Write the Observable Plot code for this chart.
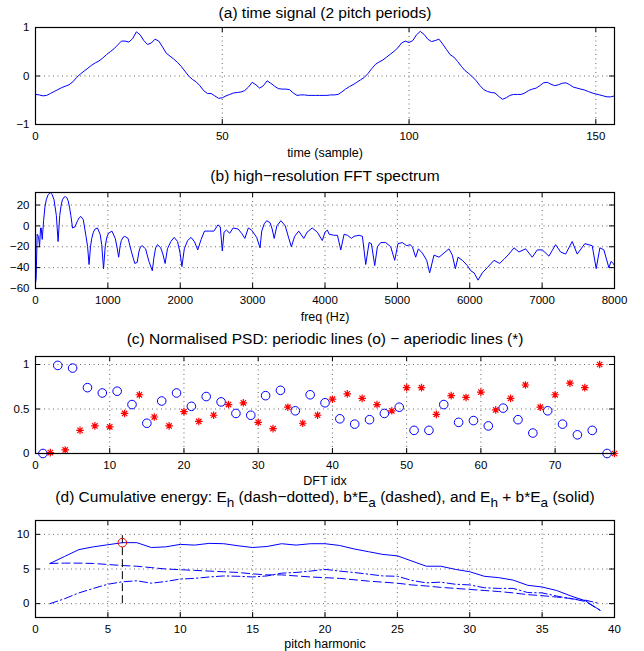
<!DOCTYPE html>
<html><head><meta charset="utf-8">
<script src="https://cdn.jsdelivr.net/npm/d3@7"></script>
<script src="https://cdn.jsdelivr.net/npm/@observablehq/plot@0.6"></script>
<style>
body{margin:0;background:#fff}
#chart{width:644px;height:651px;overflow:hidden}
#chart svg{display:block}
</style>
</head><body><div id="chart"></div>
<script>
// ---------- (a) time signal, samples 0..155 ----------
const signal = [
 -0.38,-0.39,-0.41,-0.40,-0.36,-0.32,-0.28,-0.24,-0.21,-0.18,
 -0.12,-0.03,0.04,0.10,0.16,0.22,0.27,0.31,0.37,0.44,
 0.50,0.56,0.64,0.72,0.72,0.70,0.77,0.91,0.85,0.73,
 0.65,0.68,0.76,0.72,0.60,0.47,0.41,0.35,0.28,0.20,
 0.10,0.00,-0.07,-0.12,-0.20,-0.30,-0.36,-0.36,-0.41,-0.46,
 -0.45,-0.41,-0.38,-0.35,-0.34,-0.33,-0.30,-0.23,-0.13,-0.18,
 -0.25,-0.20,-0.10,-0.15,-0.21,-0.26,-0.27,-0.27,-0.28,-0.35,
 -0.40,-0.39,-0.39,-0.40,-0.40,-0.40,-0.40,-0.40,-0.40,-0.39,
 -0.39,-0.38,-0.33,-0.27,-0.22,-0.18,-0.13,-0.08,-0.03,0.05,
 0.15,0.24,0.29,0.33,0.39,0.45,0.51,0.58,0.68,0.72,
 0.69,0.73,0.85,0.92,0.86,0.76,0.71,0.73,0.76,0.66,
 0.55,0.44,0.39,0.30,0.20,0.11,0.05,-0.02,-0.10,-0.20,
 -0.28,-0.32,-0.34,-0.35,-0.42,-0.48,-0.45,-0.40,-0.38,-0.38,
 -0.38,-0.35,-0.30,-0.27,-0.25,-0.20,-0.14,-0.13,-0.17,-0.20,
 -0.18,-0.15,-0.14,-0.18,-0.23,-0.25,-0.27,-0.29,-0.32,-0.35,
 -0.37,-0.39,-0.41,-0.43,-0.43,-0.41
];
const timeTicks = [0, 50, 100, 150];
const signalTicks = [-1, 0, 1];

// ---------- (b) high-resolution spectrum ----------
const specFreq = [
 0,9,23,42,56,70,79,93,112,130,
 149,175,205,230,256,288,312,335,355,372,
 393,414,433,451,470,488,512,544,581,605,
 628,660,698,720,740,760,777,800,823,856,
 893,915,940,963,985,1009,1056,1102,1125,1149,
 1170,1186,1210,1233,1279,1326,1372,1405,1428,1450,
 1474,1521,1567,1614,1637,1660,1684,1730,1760,1791,
 1823,1870,1916,1963,1995,2023,2056,2102,2149,2195,
 2242,2288,2335,2405,2465,2521,2553,2581,2605,2637,
 2684,2730,2800,2847,2893,2940,2986,3056,3102,3126,
 3160,3195,3242,3270,3298,3335,3391,3451,3500,3535,
 3581,3637,3707,3753,3823,3893,3963,4000,4033,4057,
 4126,4172,4218,4264,4310,4365,4402,4471,4517,4563,
 4609,4641,4687,4724,4770,4839,4908,4963,5009,5069,
 5129,5175,5207,5253,5290,5345,5405,5446,5506,5575,
 5644,5713,5759,5801,5838,5898,5967,6014,6060,6115,
 6174,6243,6335,6413,6473,6542,6611,6680,6772,6864,
 6933,7002,7094,7186,7255,7324,7416,7485,7591,7692,
 7747,7798,7853,7922,7954,7982,8000
];
const specDb = [
 -55,-50,-8,-10,-20,-2,-2,-13,5,18,
 25,30,32,30,25,10,-15,10,20,25,
 27.5,28,27,24,18,10,-2,-1,5,8,
 9,6,-10,-20,-37,-20,-12,-6,-3,-2,
 -8,-18,-41,-20,-11,-7,-5,-12,-20,-30,
 -19,-14,-11,-10,-12,-25,-36,-35,-25,-20,
 -19,-22,-34,-43,-30,-21,-18,-21,-27,-36,
 -22,-15,-11,-15,-25,-39,-22,-14,-11,-15,
 -23,-13,-5,-5,-5,1,-1,-24,-6,-4,
 -7,-2,-3,-7,-12,-2,-4,-11,-21,-5,
 2,5,3,-3,-12,0,5,0,-12,-20,
 -10,-5,-12,-6,-2,-6,-14,-6,-4,-8,
 -9,-9,-23,-8,-9,-12,-10,-9,-10,-37,
 -16,-17,-38,-20,-16,-16,-20,-33,-17,-16,
 -19,-18,-20,-30,-22,-26,-33,-45,-28,-30,
 -26,-22,-28,-41,-30,-33,-38,-43,-45,-52,
 -45,-40,-33,-36,-32,-27,-21,-25,-22,-30,
 -23,-23,-29,-18,-25,-27,-15,-27,-17,-19,
 -41,-21,-23,-40,-34,-36,-38
];
const freqTicks = [0,1000,2000,3000,4000,5000,6000,7000,8000];
const dbTicks = [-60,-40,-20,0,20];

// ---------- (c) normalised PSD ----------
const periodicIdx = d3.range(1, 78, 2);   // DFT idx 1,3,...,77
const periodicPsd = [
 0,0.99,0.96,0.74,0.68,0.70,0.55,0.34,0.59,0.68,
 0.53,0.64,0.58,0.45,0.43,0.65,0.71,0.48,0.66,0.57,
 0.39,0.33,0.38,0.45,0.52,0.26,0.26,0.55,0.35,0.37,
 0.31,0.51,0.38,0.23,0.48,0.33,0.21,0.26,0
];
const aperiodicIdx = d3.range(2, 79, 2);  // DFT idx 2,4,...,78
const aperiodicPsd = [
 0.01,0.04,0.26,0.31,0.30,0.45,0.66,0.41,0.31,0.47,
 0.36,0.43,0.55,0.57,0.35,0.28,0.52,0.34,0.43,0.61,
 0.67,0.62,0.55,0.48,0.74,0.74,0.44,0.65,0.63,0.69,
 0.49,0.62,0.77,0.52,0.66,0.79,0.74,1.00,0
];
const idxTicks = [0,10,20,30,40,50,60,70];
const psdTicks = [0, 0.5, 1];

// ---------- (d) cumulative energy ----------
const harmonics = d3.range(1, 40);        // 1..39
const energyEh = [
 0,0.7,1.55,2.2,2.8,3.15,3.3,2.95,3.2,3.55,
 3.65,3.85,4.0,3.95,3.85,4.0,4.4,4.5,4.7,4.95,
 4.7,4.5,4.25,4.0,3.95,3.35,3.0,3.1,2.8,2.7,
 2.3,2.2,2.2,1.6,1.55,1.1,0.7,0.5,0
];
const energyBEa = [
 5.8,5.85,5.85,5.8,5.65,5.5,5.4,5.2,5.0,4.9,
 4.8,4.7,4.6,4.5,4.3,4.15,4.15,4.0,3.85,3.75,
 3.65,3.45,3.25,3.1,2.95,2.7,2.55,2.35,2.2,2.05,
 1.9,1.75,1.55,1.3,1.15,0.95,0.75,0.3,-0.95
];
const energyTotal = [
 5.8,6.8,7.8,8.2,8.5,8.8,8.8,8.1,8.2,8.55,
 8.45,8.7,8.65,8.35,8.1,8.25,8.65,8.45,8.65,8.65,
 8.4,7.9,7.5,7.1,6.9,6.15,5.4,5.4,4.95,4.6,
 3.95,3.75,3.4,2.65,2.4,1.9,1.1,0.4,-0.95
];
const bestHarmonic = [6];
const bestEnergy = [8.8];
const bestSpan = [0, 10];
const harmTicks = [0,5,10,15,20,25,30,35,40];
const energyTicks = [0, 5, 10];

// ---------- drawing ----------
const FONT = '"Liberation Sans", Arial, Helvetica, sans-serif';
const W = 644, ML = 35, MR = 30;
const BLUE = "#0000ff", RED = "#ff0000";
const fmt = d => String(d).replace("-", "\u2212");
const grid = {stroke: "#000", strokeOpacity: 0.6, strokeDasharray: "1,3.5"};

const star8 = {
  draw(ctx, size) {
    const r = Math.sqrt(size / Math.PI), q = r * Math.SQRT1_2;
    ctx.moveTo(-r, 0); ctx.lineTo(r, 0);
    ctx.moveTo(0, -r); ctx.lineTo(0, r);
    ctx.moveTo(-q, -q); ctx.lineTo(q, q);
    ctx.moveTo(-q, q); ctx.lineTo(q, -q);
  }
};

function panel(o) {
  const innerH = o.height - o.mt - o.mb, innerW = W - ML - MR;
  return Plot.plot({
    width: W, height: o.height,
    marginLeft: ML, marginRight: MR, marginTop: o.mt, marginBottom: o.mb,
    style: {fontFamily: FONT, fontSize: "12px", color: "#000", background: "#fff", overflow: "visible"},
    x: {domain: o.xDomain},
    y: {domain: o.yDomain},
    marks: [
      Plot.gridX(o.xGrid, grid),
      Plot.gridY(o.yGrid, grid),
      ...o.marks,
      Plot.tickX(o.xTicks, {x: d => d, insetTop: innerH - 5, stroke: "#000"}),
      Plot.tickX(o.xTicks, {x: d => d, insetBottom: innerH - 5, stroke: "#000"}),
      Plot.tickY(o.yTicks, {y: d => d, insetRight: innerW - 5, stroke: "#000"}),
      Plot.tickY(o.yTicks, {y: d => d, insetLeft: innerW - 5, stroke: "#000"}),
      Plot.frame({stroke: "#000", strokeWidth: 1.2}),
      Plot.axisX({ticks: o.xTicks, tickSize: 0, tickPadding: 7, tickFormat: fmt, label: null, fontSize: 11.5}),
      Plot.axisY({ticks: o.yTicks, tickSize: 0, tickPadding: 6, tickFormat: fmt, label: null, fontSize: 11.5}),
      Plot.text([o.xLabel], {text: d => d, frameAnchor: "bottom", lineAnchor: "middle", dy: o.labelDy, fontSize: 12.5}),
      Plot.text([o.title], {text: d => d, frameAnchor: "top", lineAnchor: "middle", dy: o.titleDy, fontSize: 15.5})
    ]
  });
}

const chart = document.getElementById("chart");

chart.append(panel({
  height: 162, mt: 27, mb: 38, titleDy: -14, labelDy: 28,
  title: "(a) time signal (2 pitch periods)", xLabel: "time (sample)",
  xDomain: [0, 155], yDomain: [-1, 1],
  xTicks: timeTicks, yTicks: signalTicks, xGrid: [50, 100, 150], yGrid: [0],
  marks: [Plot.line(signal, {x: (d, i) => i, y: d => d, stroke: BLUE, strokeWidth: 1})]
}));

chart.append(panel({
  height: 163, mt: 30, mb: 37, titleDy: -16.5, labelDy: 28,
  title: "(b) high\u2212resolution FFT spectrum", xLabel: "freq (Hz)",
  xDomain: [0, 8000], yDomain: [-60, 32],
  xTicks: freqTicks, yTicks: dbTicks, xGrid: freqTicks.slice(1, -1), yGrid: [-40, -20, 0, 20],
  marks: [Plot.line(specFreq, {x: d => d, y: (d, i) => specDb[i], stroke: BLUE, strokeWidth: 1, clip: true})]
}));

chart.append(panel({
  height: 163, mt: 31, mb: 35, titleDy: -17, labelDy: 27.5,
  title: "(c) Normalised PSD: periodic lines (o) \u2212 aperiodic lines (*)", xLabel: "DFT idx",
  xDomain: [0, 78], yDomain: [0, 1.09],
  xTicks: idxTicks, yTicks: psdTicks, xGrid: idxTicks.slice(1), yGrid: [0.5, 1],
  marks: [
    Plot.dot(periodicIdx, {x: d => d, y: (d, i) => periodicPsd[i], r: 4.3, stroke: BLUE, fill: "none", strokeWidth: 1}),
    Plot.dot(aperiodicIdx, {x: d => d, y: (d, i) => aperiodicPsd[i], r: 3.8, symbol: star8, stroke: RED, fill: "none", strokeWidth: 1.2})
  ]
}));

const svgD = panel({
  height: 163, mt: 32, mb: 34, titleDy: -23, labelDy: 26.5,
  title: "(d) Cumulative energy: Eh (dash\u2212dotted), b*Ea (dashed), and Eh + b*Ea (solid)", xLabel: "pitch harmonic",
  xDomain: [0, 40], yDomain: [-2, 12],
  xTicks: harmTicks, yTicks: energyTicks, xGrid: harmTicks.slice(1, -1), yGrid: [0, 5, 10],
  marks: [
    Plot.line(harmonics, {x: d => d, y: (d, i) => energyEh[i], stroke: BLUE, strokeWidth: 1, strokeDasharray: "8,3,1.5,3"}),
    Plot.line(harmonics, {x: d => d, y: (d, i) => energyBEa[i], stroke: BLUE, strokeWidth: 1, strokeDasharray: "8,4"}),
    Plot.line(harmonics, {x: d => d, y: (d, i) => energyTotal[i], stroke: BLUE, strokeWidth: 1}),
    Plot.ruleX(bestHarmonic, {x: d => d, y1: bestSpan[0], y2: bestSpan[1], stroke: "#000", strokeDasharray: "8,4", strokeWidth: 1}),
    Plot.dot(bestHarmonic, {x: d => d, y: (d, i) => bestEnergy[i], r: 4.3, stroke: RED, fill: "none", strokeWidth: 1})
  ]
});
chart.append(svgD);

// subscripts in the (d) title
d3.select(svgD).selectAll("text").filter(function() { return this.textContent.startsWith("(d)"); }).each(function() {
  const t = d3.select(this);
  t.text(null);
  const parts = [["(d) Cumulative energy: E", 0], ["h", 1], [" (dash\u2212dotted), b*E", 0], ["a", 1],
                 [" (dashed), and E", 0], ["h", 1], [" + b*E", 0], ["a", 1], [" (solid)", 0]];
  parts.forEach(([s, sub], k) => {
    const ts = t.append("tspan").text(s);
    if (sub) ts.attr("dy", 5).attr("font-size", "13.5px");
    else if (k > 0) ts.attr("dy", -5);
  });
});
</script>
</body></html>
